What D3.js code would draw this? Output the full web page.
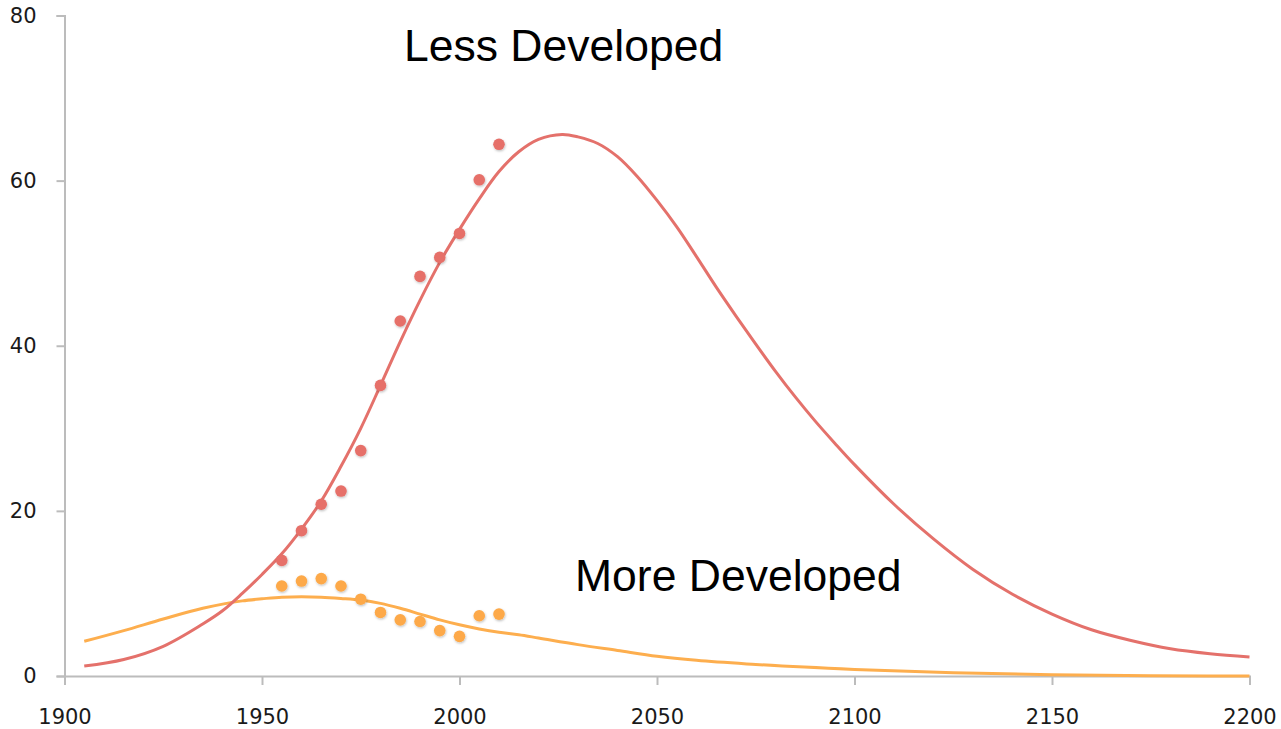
<!DOCTYPE html>
<html>
<head>
<meta charset="utf-8">
<script src="https://cdn.jsdelivr.net/npm/d3@7"></script>
<style>
  html, body { margin: 0; padding: 0; background: #fff; }
  svg { display: block; }
</style>
</head>
<body>
<svg id="chart" width="1281" height="729"></svg>
<script>
// ---- data ----
const xTicks = [1900, 1950, 2000, 2050, 2100, 2150, 2200];
const yTicks = [0, 20, 40, 60, 80];

// observed points
const obsYears = [1955, 1960, 1965, 1970, 1975, 1980, 1985, 1990, 1995, 2000, 2005, 2010];
const lessObs  = [14.0, 17.6, 20.8, 22.4, 27.3, 35.2, 43.0, 48.4, 50.7, 53.6, 60.1, 64.4];
const moreObs  = [10.9, 11.5, 11.8, 10.9, 9.3, 7.7, 6.8, 6.6, 5.5, 4.8, 7.3, 7.5];

// fitted curves
const lessCurveYears = [1905, 1915, 1925, 1935, 1940, 1945, 1950, 1955, 1960, 1965, 1970, 1975, 1980, 1985, 1990, 1995, 2000, 2005, 2010, 2015, 2020, 2026, 2030, 2035, 2040, 2045, 2050, 2055, 2060, 2065, 2070, 2075, 2080, 2085, 2090, 2095, 2100, 2110, 2120, 2130, 2140, 2150, 2160, 2170, 2180, 2190, 2200];
const lessCurveVals  = [1.2, 2.0, 3.6, 6.3, 7.9, 10.0, 12.3, 14.8, 17.8, 21.2, 25.4, 30.0, 35.2, 40.5, 45.5, 50.1, 54.1, 57.8, 61.1, 63.5, 65.0, 65.6, 65.3, 64.5, 62.9, 60.5, 57.6, 54.4, 50.8, 47.1, 43.6, 40.2, 36.9, 33.8, 30.9, 28.2, 25.6, 20.8, 16.6, 12.9, 9.9, 7.5, 5.6, 4.3, 3.3, 2.7, 2.3];
const moreCurveYears = [1905, 1915, 1925, 1935, 1945, 1950, 1955, 1960, 1965, 1970, 1975, 1980, 1985, 1990, 1995, 2000, 2005, 2010, 2015, 2020, 2030, 2040, 2050, 2060, 2075, 2100, 2125, 2150, 2175, 2200];
const moreCurveVals  = [4.2, 5.5, 6.9, 8.2, 9.1, 9.35, 9.55, 9.6, 9.55, 9.4, 9.2, 8.8, 8.2, 7.5, 6.8, 6.2, 5.7, 5.3, 5.0, 4.6, 3.8, 3.1, 2.4, 1.9, 1.4, 0.8, 0.4, 0.15, 0.04, 0.0];

const labels = [
  { text: "Less Developed", x: 404, y: 61 },
  { text: "More Developed", x: 575, y: 591 }
];

// ---- layout ----
const svg = d3.select("#chart");
const x = d3.scaleLinear().domain([1900, 2200]).range([64.5, 1249.5]);
const y = d3.scaleLinear().domain([0, 80]).range([676, 15.5]);

const axisColor = "#bcbcbc";
const redLine = "#e4716b", redDot = "#e66f69";
const orLine = "#fdae4e", orDot = "#fda948";

// dot shadow
const defs = svg.append("defs");
const f = defs.append("filter").attr("id", "sh").attr("x", "-50%").attr("y", "-50%").attr("width", "200%").attr("height", "200%");
f.append("feDropShadow").attr("dx", 0.6).attr("dy", 1.2).attr("stdDeviation", 1.2).attr("flood-color", "#000").attr("flood-opacity", 0.25);

// y axis
const yAxis = svg.append("g").attr("transform", `translate(${x(1900)},0)`)
  .call(d3.axisLeft(y).tickValues(yTicks).tickSize(8).tickPadding(20).tickFormat(d3.format("d")));
// x axis
const xAxis = svg.append("g").attr("transform", `translate(0,${y(0)})`)
  .call(d3.axisBottom(x).tickValues(xTicks).tickSize(9).tickPadding(32).tickFormat(d3.format("d")));

[yAxis, xAxis].forEach(g => {
  g.select(".domain").attr("stroke", axisColor).attr("stroke-width", 2);
  g.selectAll(".tick line").attr("stroke", axisColor).attr("stroke-width", 2);
  g.selectAll(".tick text").attr("fill", "#1a1a1a")
    .style("font-family", "'DejaVu Sans', Verdana, sans-serif").style("font-size", "21px");
});
xAxis.selectAll(".tick text").attr("dy", "0.35em");

const line = d3.line().x(d => x(d[0])).y(d => y(d[1])).curve(d3.curveCatmullRom.alpha(0.5));
const lineM = d3.line().x(d => x(d[0])).y(d => y(d[1])).curve(d3.curveMonotoneX);

svg.append("path").datum(moreCurveYears.map((yr, i) => [yr, moreCurveVals[i]]))
  .attr("d", lineM).attr("fill", "none").attr("stroke", orLine).attr("stroke-width", 3);
svg.append("path").datum(lessCurveYears.map((yr, i) => [yr, lessCurveVals[i]]))
  .attr("d", line).attr("fill", "none").attr("stroke", redLine).attr("stroke-width", 3);

svg.append("g").selectAll("circle").data(obsYears.map((yr, i) => [yr, moreObs[i]])).join("circle")
  .attr("cx", d => x(d[0])).attr("cy", d => y(d[1])).attr("r", 5.8).attr("fill", orDot).attr("filter", "url(#sh)");
svg.append("g").selectAll("circle").data(obsYears.map((yr, i) => [yr, lessObs[i]])).join("circle")
  .attr("cx", d => x(d[0])).attr("cy", d => y(d[1])).attr("r", 5.8).attr("fill", redDot).attr("filter", "url(#sh)");

svg.append("g").selectAll("text").data(labels).join("text")
  .attr("x", d => d.x).attr("y", d => d.y)
  .style("font-family", "'Liberation Sans', Arial, sans-serif").style("font-size", "44.5px")
  .attr("fill", "#000").text(d => d.text);
</script>
</body>
</html>
